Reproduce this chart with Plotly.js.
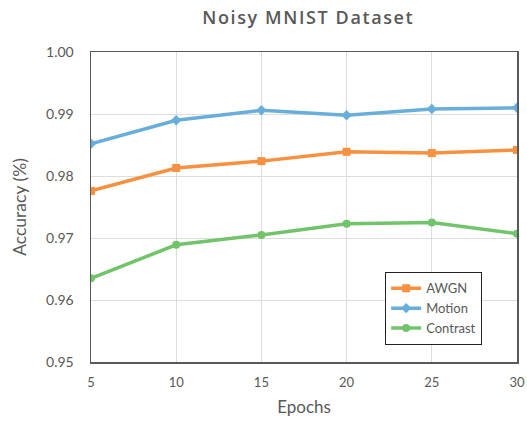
<!DOCTYPE html>
<html><head><meta charset="utf-8">
<script src="https://cdn.plot.ly/plotly-3.0.1.min.js"></script>
<style>html,body{margin:0;padding:0;background:#fff}#chart{width:527px;height:422px}
.gtitle{letter-spacing:1.6px}</style>
</head><body><div id="chart"></div>
<script>
const epochs = [5, 10, 15, 20, 25, 30];
const awgn = [0.9776, 0.9813, 0.9824, 0.9839, 0.9837, 0.9842];
const motion = [0.9852, 0.9890, 0.9906, 0.9898, 0.9908, 0.9910];
const contrast = [0.9635, 0.9689, 0.9705, 0.9723, 0.9725, 0.9707];
const yTicks = [0.95, 0.96, 0.97, 0.98, 0.99, 1.00];
const yTickText = ['0.95', '0.96', '0.97', '0.98', '0.99', '1.00'];

const font = 'Lato, "Open Sans", sans-serif';
const traces = [
  {x: epochs, y: awgn, name: 'AWGN', mode: 'lines+markers',
   line: {color: '#F8913F', width: 3.5}, marker: {symbol: 'square', size: 8, color: '#F8913F'}},
  {x: epochs, y: motion, name: 'Motion', mode: 'lines+markers',
   line: {color: '#68AEDA', width: 3.5}, marker: {symbol: 'diamond', size: 8, color: '#68AEDA'}},
  {x: epochs, y: contrast, name: 'Contrast', mode: 'lines+markers',
   line: {color: '#72C46B', width: 3.5}, marker: {symbol: 'circle', size: 8, color: '#72C46B'}}
];
const layout = {
  width: 527, height: 422,
  margin: {l: 91, r: 10, t: 52, b: 60},
  paper_bgcolor: '#fff', plot_bgcolor: '#fff',
  font: {family: font, color: '#595959', size: 13},
  title: {text: 'Noisy MNIST Dataset', x: 0.585, xanchor: 'center', y: 0.957, yanchor: 'middle',
          font: {size: 18, color: '#595959', family: '"Open Sans", sans-serif', weight: 600}},
  xaxis: {range: [5, 30], tickvals: epochs, ticktext: epochs.map(String),
          showgrid: true, gridcolor: '#DDDDDD', gridwidth: 1,
          showline: true, linecolor: '#595959', linewidth: 1.5, mirror: true,
          ticks: '', zeroline: false, ticklabelstandoff: 8,
          tickfont: {size: 13, color: '#595959'},
          title: {text: 'Epochs', font: {size: 17, color: '#595959'}, standoff: 12}},
  yaxis: {range: [0.95, 1.00], tickvals: yTicks, ticktext: yTickText,
          showgrid: true, gridcolor: '#DDDDDD', gridwidth: 1,
          showline: true, linecolor: '#595959', linewidth: 1.5, mirror: true,
          ticks: '', zeroline: false, ticklabelstandoff: 13,
          tickfont: {size: 14, color: '#595959'},
          title: {text: 'Accuracy (%)', font: {size: 17.5, color: '#595959'}, standoff: 15}},
  legend: {x: 0.69, y: 0.29, xanchor: 'left', yanchor: 'top',
           bgcolor: '#fff', bordercolor: '#222', borderwidth: 1.2,
           font: {size: 13, color: '#595959'}, tracegroupgap: 0, itemwidth: 30},
  showlegend: true
};
Plotly.newPlot('chart', traces, layout, {displayModeBar: false, staticPlot: true});
</script></body></html>
